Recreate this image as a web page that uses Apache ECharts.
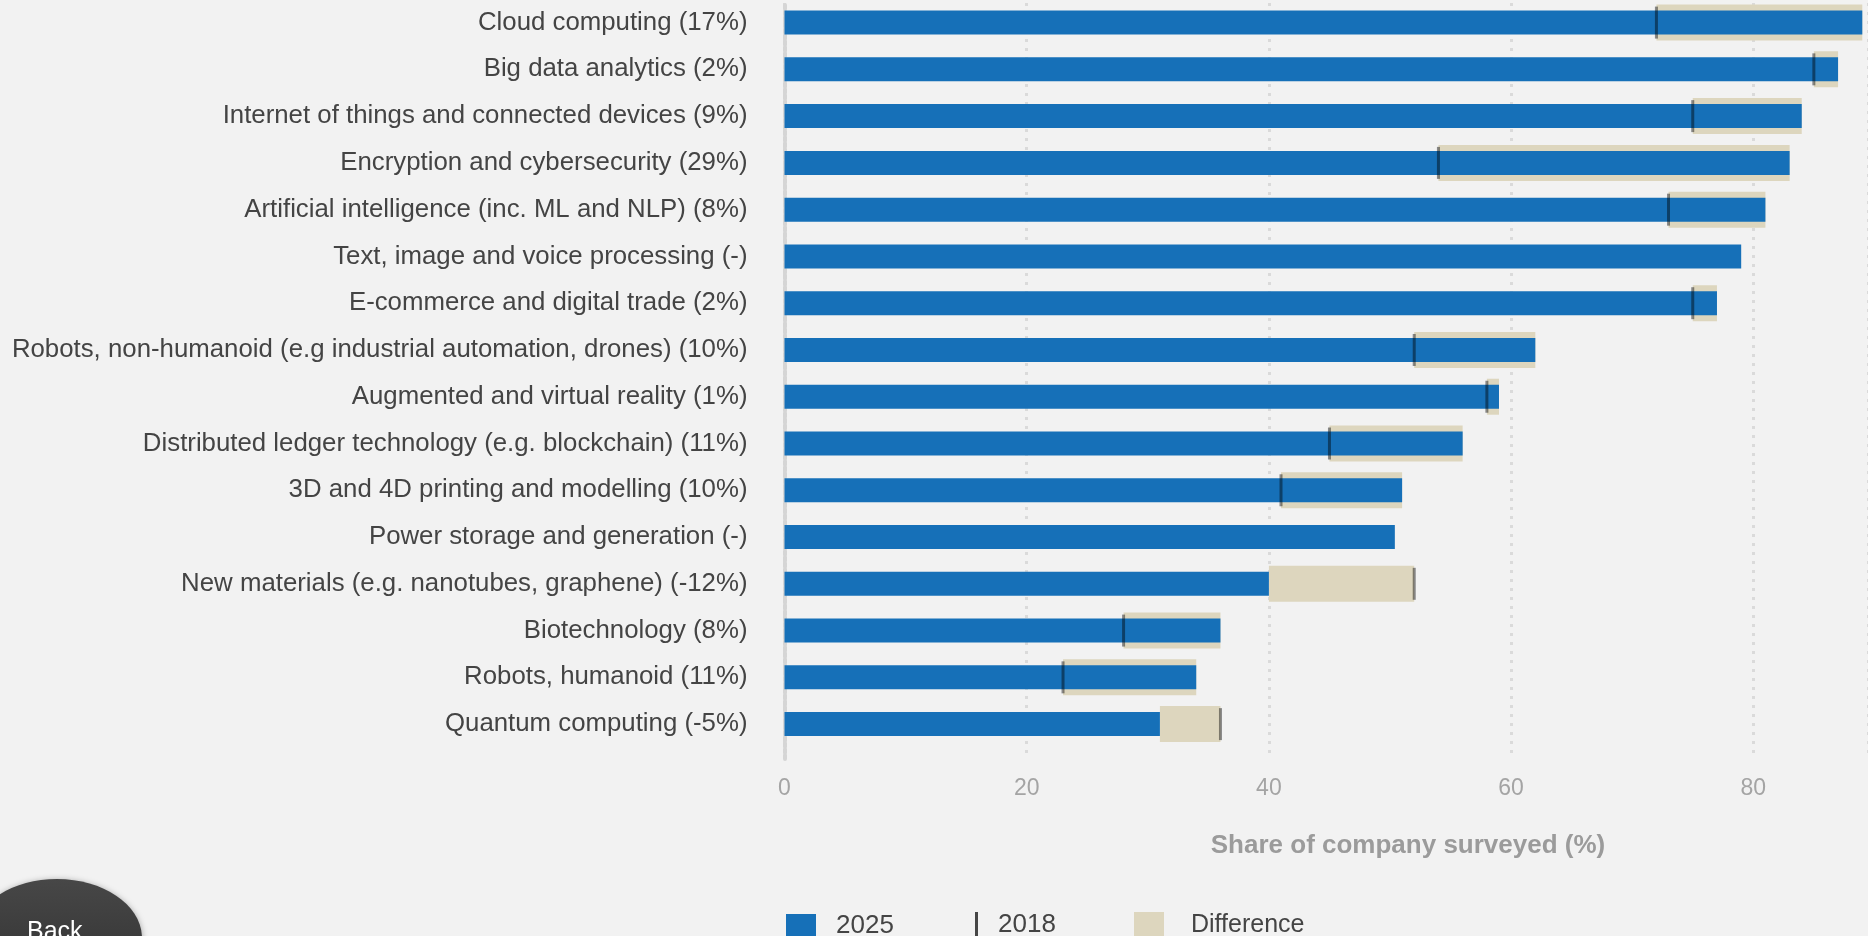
<!DOCTYPE html>
<html>
<head>
<meta charset="utf-8">
<script src="https://cdn.jsdelivr.net/npm/echarts@6/dist/echarts.min.js"></script>
<style>
  html, body { margin: 0; padding: 0; background: #f2f2f2; }
  #chart { width: 1868px; height: 936px; }
</style>
</head>
<body>
<div id="chart"></div>
<script>
// Technologies, with the 2018→2025 change in brackets
const categories = [
  'Cloud computing (17%)',
  'Big data analytics (2%)',
  'Internet of things and connected devices (9%)',
  'Encryption and cybersecurity (29%)',
  'Artificial intelligence (inc. ML and NLP) (8%)',
  'Text, image and voice processing (-)',
  'E-commerce and digital trade (2%)',
  'Robots, non-humanoid (e.g industrial automation, drones) (10%)',
  'Augmented and virtual reality (1%)',
  'Distributed ledger technology (e.g. blockchain) (11%)',
  '3D and 4D printing and modelling (10%)',
  'Power storage and generation (-)',
  'New materials (e.g. nanotubes, graphene) (-12%)',
  'Biotechnology (8%)',
  'Robots, humanoid (11%)',
  'Quantum computing (-5%)'
];
// Share of companies (%) likely to adopt by 2025
const values2025 = [89, 87, 84, 83, 81, 79, 77, 62, 59, 56, 51, 50.4, 40, 36, 34, 31];
// Share of companies (%) in the 2018 survey (null = not asked)
const values2018 = [72, 85, 75, 54, 73, null, 75, 52, 58, 45, 41, null, 52, 28, 23, 36];
const xTicks = [0, 20, 40, 60, 80];

const FONT = "'Liberation Sans', Arial, Helvetica, sans-serif";
const BLUE = '#1670b8';
const BEIGE = '#ddd6be';
const MARK = 'rgba(0,0,0,0.55)';

const diffData = [];
const markData = [];
values2018.forEach((v, i) => {
  if (v == null) return;
  diffData.push([i, v, values2025[i]]);
  markData.push([v, i]);
});

const chart = echarts.init(document.getElementById('chart'), null, { renderer: 'canvas' });

// plot starts at x=784.5 with 12.11 px per percentage point; it runs off the right edge
const plotLeft = 784.5;
const unitPx = 12.11;
const axisMax = (1868 - plotLeft) / unitPx;

chart.setOption({
  backgroundColor: '#f2f2f2',
  animation: false,
  textStyle: { fontFamily: FONT },
  grid: [
    { left: plotLeft, top: -0.8, right: 0, height: 748.3, outerBoundsMode: 'none' },
    { left: plotLeft, top: 3, right: 0, height: 756, outerBoundsMode: 'none' }
  ],
  xAxis: [
    { type: 'value', gridIndex: 0, min: 0, max: axisMax, interval: 20, show: false },
    {
      type: 'value', gridIndex: 1, min: 0, max: axisMax, interval: 20,
      axisLine: { show: false },
      axisTick: { show: false },
      splitLine: {
        show: true,
        lineStyle: { color: '#dadada', width: 3, type: [3, 6] }
      },
      axisLabel: {
        show: true, showMaxLabel: false, margin: 18,
        fontSize: 23, color: '#a4a4a4', fontFamily: FONT,
        formatter: v => (xTicks.indexOf(v) >= 0 ? String(v) : '')
      }
    }
  ],
  yAxis: [
    {
      type: 'category', gridIndex: 0, data: categories, inverse: true,
      axisLine: { show: false },
      axisTick: { show: false },
      splitLine: { show: false },
      axisLabel: { margin: 37, fontSize: 25.8, color: '#444', fontFamily: FONT }
    },
    {
      type: 'value', gridIndex: 1, min: 0, max: 1,
      axisLine: { show: true, lineStyle: { color: '#d5d5d5', width: 4, type: [4, 2] } },
      axisTick: { show: false },
      axisLabel: { show: false },
      splitLine: { show: false }
    }
  ],
  legend: [
    {
      left: 786, top: 913, padding: 0, itemWidth: 30, itemHeight: 24, icon: 'rect',
      data: ['2025'],
      textStyle: { fontSize: 26, color: '#444', fontFamily: FONT, padding: [0, 0, 0, 15] }
    },
    {
      left: 975, top: 912, padding: 0, itemWidth: 3, itemHeight: 26, icon: 'rect',
      data: [{ name: '2018', itemStyle: { color: '#1a1a1a' } }],
      textStyle: { fontSize: 26, color: '#444', fontFamily: FONT, padding: [0, 0, 0, 15] }
    },
    {
      left: 1134, top: 912, padding: 0, itemWidth: 30, itemHeight: 26, icon: 'rect',
      data: ['Difference'],
      textStyle: { fontSize: 25, color: '#444', fontFamily: FONT, padding: [0, 0, 0, 22] }
    }
  ],
  series: [
    {
      name: 'Difference',
      type: 'custom',
      xAxisIndex: 0, yAxisIndex: 0,
      itemStyle: { color: BEIGE },
      encode: { x: [1, 2], y: 0 },
      data: diffData,
      renderItem: function (params, api) {
        const cat = api.value(0);
        const a = api.value(1);
        const b = api.value(2);
        const p1 = api.coord([Math.min(a, b), cat]);
        const p2 = api.coord([Math.max(a, b), cat]);
        const h = 36;
        return {
          type: 'rect',
          shape: { x: p1[0], y: p1[1] - h / 2, width: p2[0] - p1[0], height: h },
          style: { fill: api.visual('color') }
        };
      }
    },
    {
      name: '2025',
      type: 'bar',
      xAxisIndex: 0, yAxisIndex: 0,
      barWidth: 24,
      itemStyle: { color: BLUE },
      data: values2025
    },
    {
      name: '2018',
      type: 'scatter',
      xAxisIndex: 0, yAxisIndex: 0,
      symbol: 'rect',
      symbolSize: [3, 32],
      itemStyle: { color: MARK },
      data: markData
    }
  ],
  graphic: [
    {
      type: 'text',
      style: {
        text: 'Share of company surveyed (%)',
        x: 1408, y: 846,
        textAlign: 'center', textVerticalAlign: 'middle',
        font: 'bold 26px ' + FONT,
        fill: '#9b9b9b'
      }
    },
    {
      type: 'group',
      children: [
        {
          type: 'ellipse',
          shape: { cx: 57, cy: 938, rx: 85, ry: 59 },
          style: {
            fill: new echarts.graphic.LinearGradient(0, 0, 0, 1, [
              { offset: 0, color: '#474747' },
              { offset: 1, color: '#303030' }
            ]),
            shadowBlur: 6, shadowColor: 'rgba(0,0,0,0.35)', shadowOffsetY: 1
          }
        },
        {
          type: 'text',
          style: {
            text: 'Back', x: 27, y: 920,
            font: '25px ' + FONT, fill: '#ffffff',
            textVerticalAlign: 'top'
          }
        }
      ]
    }
  ]
});
</script>
</body>
</html>
